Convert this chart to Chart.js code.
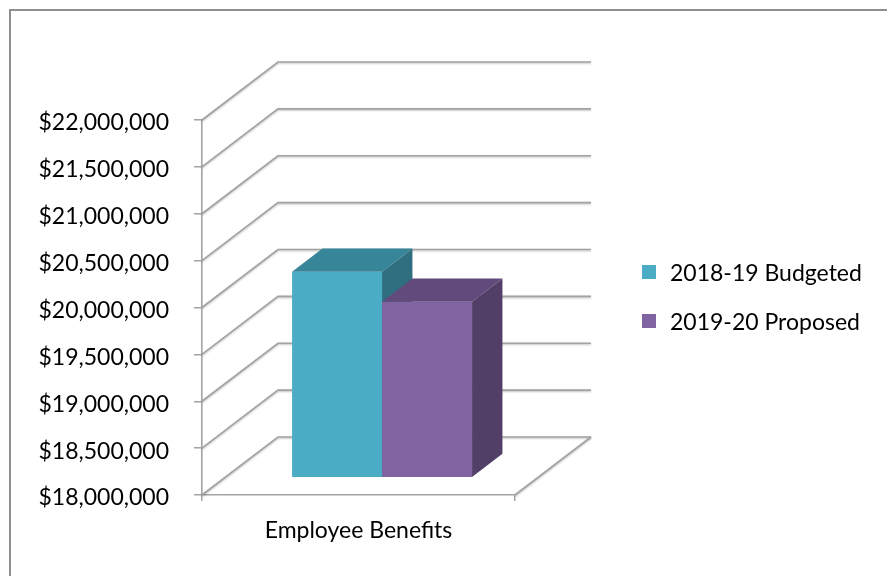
<!DOCTYPE html>
<html lang="en">
<head>
<meta charset="UTF-8">
<title>Employee Benefits</title>
<script src="https://cdn.jsdelivr.net/npm/chart.js"></script>
<style>
    html, body {
        margin: 0;
        padding: 0;
        background: #fff;
    }

    .wrap {
        position: relative;
        width: 887px;
        height: 576px;
        overflow: hidden;
    }

    /* outer frame, only the top and left edges fall inside the page */
    .frame {
        position: absolute;
        left: 9px;
        top: 9px;
        width: 920px;
        height: 620px;
        border-left: 2px solid #8f8f8f;
        border-top: 2px solid #8f8f8f;
    }

    #chart {
        position: absolute;
        left: 0;
        top: 0;
    }

    .legend {
        position: absolute;
        left: 642px;
        top: 260px;
        font-family: Lato, sans-serif;
        font-size: 23px;
        color: #000;
    }

    .legend .item {
        display: flex;
        align-items: center;
        height: 24px;
        margin-bottom: 25px;
    }

    .legend .box {
        width: 14px;
        height: 14px;
        margin-right: 14px;
    }
</style>
</head>
<body>
<div class="wrap">
    <div class="frame"></div>
    <canvas id="chart" width="887" height="576"></canvas>
    <div class="legend" id="legend"></div>
</div>

<script>
    // data
    const categories = ['Employee Benefits'];
    const seriesNames = ['2018-19 Budgeted', '2019-20 Proposed'];
    const budgeted = [20190000];
    const proposed = [19870000];
    const axisMin = 18000000;
    const axisMax = 22000000;
    const axisStep = 500000;

    // face colours of each box: front, top, right side
    const faces = [
        { front: '#4bacc6', top: '#378598', side: '#2f6f7f' },
        { front: '#8064a2', top: '#624b7c', side: '#523f68' }
    ];

    // depth of the 3d box (pixels) and where the bars sit inside it
    const DEPTH_X = 76;
    const DEPTH_Y = -58;
    const BAR_FRONT = 0.31;
    const BAR_BACK = 0.71;

    const GRID_COLOR = '#a3a3a3';

    function money(v) {
        return '$' + Number(v).toLocaleString('en-US');
    }

    function quad(ctx, pts, color) {
        ctx.fillStyle = color;
        ctx.beginPath();
        ctx.moveTo(pts[0][0], pts[0][1]);
        for (let i = 1; i < pts.length; i++) ctx.lineTo(pts[i][0], pts[i][1]);
        ctx.closePath();
        ctx.fill();
    }

    const box3d = {
        id: 'box3d',
        // walls and floor
        beforeDatasetsDraw(chart) {
            const { ctx, chartArea: a, scales: { y } } = chart;
            const base = y.getPixelForValue(y.min);
            ctx.save();
            ctx.strokeStyle = GRID_COLOR;
            ctx.lineWidth = 1.6;
            ctx.shadowColor = 'rgba(0,0,0,0.25)';
            ctx.shadowBlur = 2;
            ctx.shadowOffsetY = 1;
            y.ticks.forEach(t => {
                const py = y.getPixelForValue(t.value);
                ctx.beginPath();
                ctx.moveTo(a.left, py);
                ctx.lineTo(a.left + DEPTH_X, py + DEPTH_Y);
                ctx.lineTo(a.right + DEPTH_X, py + DEPTH_Y);
                ctx.stroke();
            });
            ctx.beginPath();
            ctx.moveTo(a.right, base);
            ctx.lineTo(a.right + DEPTH_X, base + DEPTH_Y);
            ctx.stroke();
            ctx.restore();
        },
        // bars are drawn as boxes below, skip the flat ones
        beforeDatasetDraw() {
            return false;
        },
        afterDatasetsDraw(chart) {
            const { ctx, scales: { y } } = chart;
            const base = y.getPixelForValue(y.min);
            const fx = BAR_FRONT * DEPTH_X, fy = BAR_FRONT * DEPTH_Y;
            const bx = BAR_BACK * DEPTH_X, by = BAR_BACK * DEPTH_Y;
            ctx.save();
            chart.data.datasets.forEach((ds, i) => {
                const meta = chart.getDatasetMeta(i);
                meta.data.forEach(bar => {
                    const p = bar.getProps(['x', 'y', 'width'], true);
                    const x0 = p.x - p.width / 2;
                    const x1 = p.x + p.width / 2;
                    const c = faces[i];
                    quad(ctx, [[x0 + fx, p.y + fy], [x1 + fx, p.y + fy], [x1 + fx, base + fy], [x0 + fx, base + fy]], c.front);
                    quad(ctx, [[x0 + fx, p.y + fy], [x0 + bx, p.y + by], [x1 + bx, p.y + by], [x1 + fx, p.y + fy]], c.top);
                    quad(ctx, [[x1 + fx, p.y + fy], [x1 + bx, p.y + by], [x1 + bx, base + by], [x1 + fx, base + fy]], c.side);
                });
            });
            ctx.restore();
        }
    };

    Chart.defaults.font.family = 'Lato, sans-serif';
    Chart.defaults.font.size = 23;
    Chart.defaults.color = '#000';

    const chart = new Chart(document.getElementById('chart'), {
        type: 'bar',
        data: {
            labels: categories,
            datasets: [
                { label: seriesNames[0], data: budgeted, backgroundColor: faces[0].front },
                { label: seriesNames[1], data: proposed, backgroundColor: faces[1].front }
            ]
        },
        options: {
            responsive: false,
            animation: false,
            layout: {
                padding: { left: 0, top: 120, right: 372, bottom: 0 }
            },
            datasets: {
                bar: { categoryPercentage: 0.575, barPercentage: 1 }
            },
            plugins: {
                legend: { display: false },
                tooltip: { enabled: false }
            },
            scales: {
                x: {
                    grid: { drawOnChartArea: false, drawTicks: true, tickLength: 6, color: GRID_COLOR, lineWidth: 1.5 },
                    border: { color: GRID_COLOR, width: 1.6 },
                    ticks: { padding: 16 },
                    afterFit(scale) { scale.height = 81; }
                },
                y: {
                    min: axisMin,
                    max: axisMax,
                    grid: { drawOnChartArea: false, drawTicks: true, tickLength: 8, color: GRID_COLOR, lineWidth: 1.5 },
                    border: { color: GRID_COLOR, width: 1.6 },
                    ticks: {
                        stepSize: axisStep,
                        padding: 25,
                        labelOffset: 3,
                        callback: v => money(v)
                    },
                    afterFit(scale) { scale.width = 202; }
                }
            }
        },
        plugins: [box3d]
    });

    // legend
    const legend = document.getElementById('legend');
    seriesNames.forEach((name, i) => {
        const item = document.createElement('div');
        item.className = 'item';
        const box = document.createElement('span');
        box.className = 'box';
        box.style.background = faces[i].front;
        const text = document.createElement('span');
        text.textContent = name;
        item.appendChild(box);
        item.appendChild(text);
        legend.appendChild(item);
    });
</script>
</body>
</html>
